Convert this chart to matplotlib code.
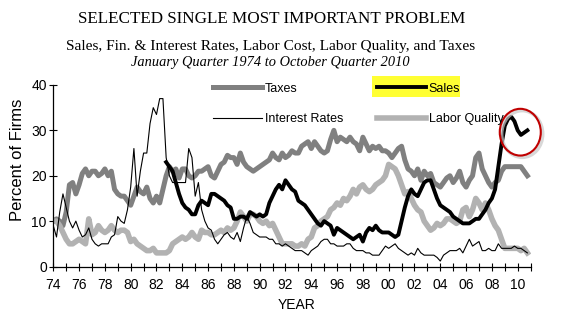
import numpy as np
import matplotlib
matplotlib.use("Agg")
import matplotlib.pyplot as plt
from matplotlib.patches import Ellipse, Rectangle

# Quarterly shares of firms naming each problem (percent), Jan quarter 1974 .. Oct quarter 2010
first_year = 1974

taxes = [
    10, 10.5, 10, 9, 12, 18, 18.5, 16, 18, 20.5,
    21.5, 20, 21, 21, 20, 20.5, 21.5, 20, 21, 17,
    16, 15.5, 15.5, 14.5, 13.5, 15.5, 17.5, 16.5, 16, 17.5,
    15, 14, 15.5, 14, 17, 20, 22, 21, 21.5, 19.5,
    21.5, 21.5, 20, 19.5, 20, 21, 21, 21.5, 22, 20,
    19.5, 21, 22.5, 23, 24.5, 24, 24, 22.5, 25, 23,
    22, 21.5, 21, 21.5, 22, 22.5, 23, 23.5, 25, 24,
    23.5, 25, 24, 24.5, 25.5, 25, 25, 26.5, 27, 27.5,
    26, 27.5, 26.5, 25.5, 25, 25.5, 28, 30, 27.5, 28.5,
    28, 27.5, 28.5, 27.5, 27, 25.5, 28.5, 27, 25.5, 26.5,
    26, 26.5, 25.5, 25.5, 25, 24, 25, 26, 26.5, 23.5,
    21.5, 21, 20, 21.5, 19, 21, 20, 20.5, 18.5, 18,
    17.5, 18.5, 19.5, 20, 18.5, 19.5, 21, 18.5, 17.5, 19,
    20, 24, 25, 21.5, 20, 18.5, 17.5, 18.5, 19, 21,
    22, 22, 22, 22, 22, 22, 21, 20,
]

interest_rates = [
    9, 6.5, 12, 16, 13, 10, 8.5, 10, 8, 6.5,
    7, 8.5, 6, 5, 4.5, 5, 5, 5, 6.5, 7,
    11, 10, 9.5, 12.5, 17.5, 26, 15.5, 21, 25, 25,
    31.5, 35, 33.5, 37, 37, 24, 20, 18.5, 18.5, 18.5,
    18.5, 18.5, 26, 24, 15.5, 18.5, 12.5, 10, 8.5, 8,
    6, 5, 6, 7, 7.5, 6.5, 6, 7.5, 5.5, 8.5,
    11, 9.5, 7.5, 7, 6.5, 6.5, 6.5, 6, 6, 5,
    5, 4.5, 5, 4.5, 4, 3.5, 3.5, 3.5, 3, 2.5,
    3.5, 4, 4.5, 5.5, 6, 6, 5, 5, 4.5, 4.5,
    4.5, 5, 5, 4, 3.5, 3.5, 3.5, 3, 3, 2.5,
    2.5, 2.5, 3.5, 4.5, 4, 4.5, 5, 4, 3.5, 3,
    2.5, 3, 2.5, 4, 3, 2.5, 2.5, 2.5, 2.5, 2,
    1.2, 2.5, 3, 3.5, 3.5, 3.5, 4, 3, 4.5, 6,
    4.5, 5, 5.5, 3.5, 3.5, 4, 3.5, 3.5, 5, 4,
    4, 4, 4, 4.5, 4, 4, 3.5, 3,
]

labor_quality = [
    10, 10, 9, 7.5, 6, 5, 5, 5.5, 6, 5.5,
    5, 10.5, 7, 7.5, 9, 8, 7.5, 8, 9, 8,
    7.5, 8, 8, 7.5, 5.5, 6, 5, 4.5, 4, 3.5,
    3.5, 4, 3, 3, 3, 3, 3.5, 5, 5.5, 6,
    6.5, 6, 6.5, 7.5, 6.5, 6, 8, 7.5, 7.5, 7,
    7, 7.5, 8, 7.5, 8.5, 8, 8.5, 10, 12, 11,
    10, 11.5, 11.5, 11, 10, 9.5, 10, 9, 9.5, 8,
    6.5, 5, 5, 5, 5, 4.5, 4.5, 5, 4.5, 6,
    6.5, 8.5, 9, 10, 10.5, 11, 12.5, 13, 14, 13.5,
    15, 14.5, 15.5, 17, 16, 17.5, 18, 17, 16.5, 17,
    18, 18.5, 19, 20, 22.5, 22, 21.5, 20, 18, 16,
    16.5, 15, 13.5, 12.5, 12, 10, 9, 8, 8.5, 9.5,
    9, 9.5, 10.5, 10.5, 10, 9.5, 10, 12.5, 13, 11,
    12.5, 15, 14, 12.5, 14, 12.5, 10.5, 9, 8, 6,
    4, 4, 4, 4, 4, 3.5, 4, 3,
]

# Sales is only reported from the October quarter 1982 on
sales_start = 35
sales = [
    23, 22, 21, 18.5, 16,
    14, 13, 12.5, 11.5, 11.5, 13.5, 14.5, 14, 13.5, 16,
    16, 15.5, 15, 14.5, 13.5, 13, 10.5, 10.5, 11, 11,
    10.5, 12, 11.5, 11, 11.5, 11, 11.5, 14, 15.5, 17,
    18, 17, 19, 18, 17, 16.5, 14.5, 14, 13.5, 12.5,
    11.5, 10.5, 9.5, 9, 10, 9.5, 9, 7, 8.5, 8,
    7.5, 7, 6.5, 6, 6.5, 7, 5.5, 7.5, 8.5, 8,
    9, 8, 7.5, 7.5, 7.5, 7, 6.5, 7, 10, 13,
    15.5, 17, 16, 15.5, 17, 18.5, 19, 19, 17, 15,
    13.5, 13, 12.5, 12, 11, 10.5, 10, 9.5, 9.5, 9.5,
    10, 10.5, 10.5, 11.5, 12.5, 14, 15, 17, 22, 27,
    31, 32.5, 33, 32, 30, 29, 29.5, 30,
]

year_ticks = list(range(1974, 2011, 2))
year_labels = [f"{y % 100:02d}" for y in year_ticks]

quarters = first_year + np.arange(len(taxes)) / 4
sales_x = quarters[sales_start:]

plt.rcParams['font.family'] = ['Liberation Sans', 'DejaVu Sans']

fig = plt.figure(figsize=(5.65, 3.25), dpi=100)
ax = fig.add_axes([0.0943, 0.18, 0.8448, 0.5585])
ax.patch.set_visible(False)

ax.plot(quarters, taxes, color='#808080', lw=3.6, label='Taxes')
ax.plot(quarters, labor_quality, color='#b2b2b2', lw=4.0, label='Labor Quality')
ax.plot(sales_x, sales, color='black', lw=2.8, label='Sales')
ax.plot(quarters, interest_rates, color='black', lw=0.8, label='Interest Rates')

ax.set_xlim(1974, 2011)
ax.set_ylim(0, 40)
ax.set_xticks(year_ticks, year_labels)
ax.set_xticks(range(1974, 2012), minor=True)
ax.set_yticks([0, 10, 20, 30, 40])
ax.tick_params(axis='both', which='both', direction='inout', length=6.2, width=0.8,
               labelsize=10)
ax.tick_params(axis='x', pad=5)
ax.tick_params(axis='y', pad=1.6)
for side in ['top', 'right']:
    ax.spines[side].set_visible(False)
for side in ['left', 'bottom']:
    ax.spines[side].set_linewidth(0.9)

ax.set_ylabel('Percent of Firms', fontsize=12)
ax.yaxis.set_label_coords(-0.059, 0.587)
ax.set_xlabel('YEAR', fontsize=10)
ax.xaxis.set_label_coords(0.51, -0.174)

# legend in two columns, Sales highlighted in yellow
h, l = ax.get_legend_handles_labels()
order = [0, 3, 2, 1]
fig.add_artist(Rectangle((372 / 565, 1 - 97 / 325), 88 / 565, 21 / 325,
                         transform=fig.transFigure, facecolor='#ffff33',
                         edgecolor='none', zorder=1))
fig.legend([h[i] for i in order], [l[i] for i in order], ncol=2, loc='upper left',
           bbox_to_anchor=(213 / 565, 1 - 82.5 / 325), frameon=False, fontsize=9,
           handlelength=3.9, handletextpad=0.25, columnspacing=2.7,
           labelspacing=1.5, borderpad=0, borderaxespad=0)

# red ring around the latest sales spike
ax.add_patch(Ellipse((2010.35, 29.2), 3.18, 10.3, fill=False, ec='#c8c8c8',
                     lw=2.5, alpha=0.7, clip_on=False, zorder=5))
ax.add_patch(Ellipse((2010.2, 29.6), 3.18, 10.3, fill=False, ec='#c00000',
                     lw=1.5, clip_on=False, zorder=6))

serif = ['Liberation Serif', 'DejaVu Serif']
fig.text(0.48, 1 - 23 / 325, 'SELECTED SINGLE MOST IMPORTANT PROBLEM',
         ha='center', va='baseline', family=serif, fontsize=12.3)
fig.text(0.479, 1 - 50 / 325,
         'Sales, Fin. & Interest Rates, Labor Cost, Labor Quality, and Taxes',
         ha='center', va='baseline', family=serif, fontsize=11.1)
fig.text(0.478, 1 - 66 / 325, 'January Quarter 1974 to October Quarter 2010',
         ha='center', va='baseline', family=serif, fontsize=10.4, style='italic')

fig.savefig('out.png', dpi=100)
